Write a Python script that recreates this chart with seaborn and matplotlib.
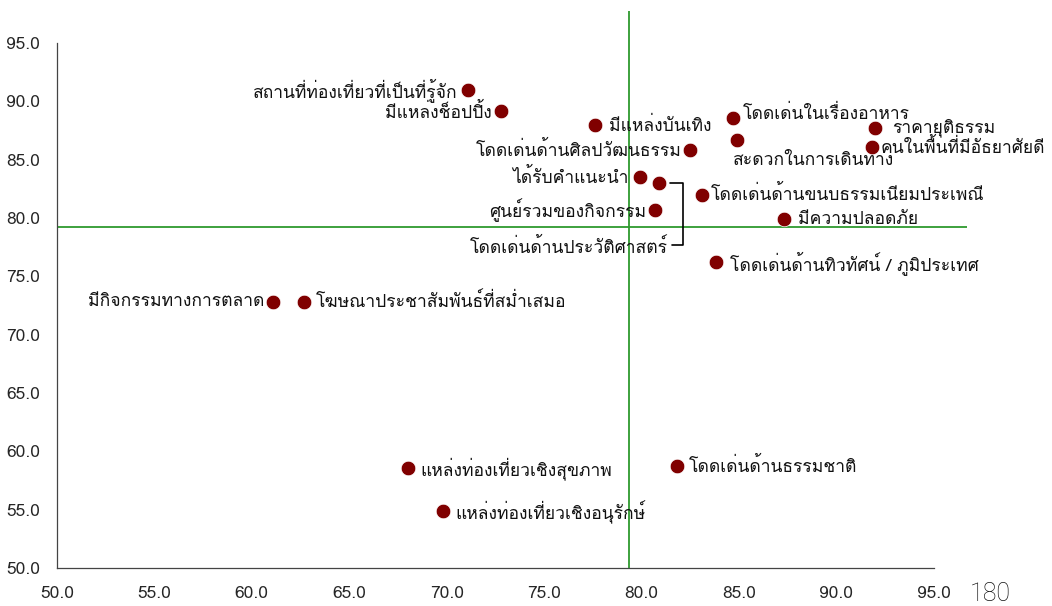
import matplotlib
matplotlib.use('Agg')
import matplotlib.pyplot as plt
import seaborn as sns
import pandas as pd
from matplotlib.transforms import IdentityTransform

# ข้อมูล (อ่านจากภาพ)
labels = [
    'สถานที่ท่องเที่ยวที่เป็นที่รู้จัก', 'มีแหล่งช็อปปิ้ง', 'มีแหล่งบันเทิง',
    'โดดเด่นในเรื่องอาหาร', 'ราคายุติธรรม', 'คนในพื้นที่มีอัธยาศัยดี',
    'สะดวกในการเดินทาง', 'โดดเด่นด้านศิลปวัฒนธรรม', 'ได้รับคำแนะนำ',
    'โดดเด่นด้านประวัติศาสตร์', 'ศูนย์รวมของกิจกรรม', 'โดดเด่นด้านขนบธรรมเนียมประเพณี',
    'มีความปลอดภัย', 'โดดเด่นด้านทิวทัศน์ / ภูมิประเทศ', 'มีกิจกรรมทางการตลาด',
    'โฆษณาประชาสัมพันธ์ที่สม่ำเสมอ', 'แหล่งท่องเที่ยวเชิงสุขภาพ',
    'แหล่งท่องเที่ยวเชิงอนุรักษ์', 'โดดเด่นด้านธรรมชาติ',
]
x_vals = [71.1, 72.8, 77.6, 84.7, 92.0, 91.8, 84.9, 82.5, 79.9, 80.9,
          80.7, 83.1, 87.3, 83.8, 61.1, 62.7, 68.0, 69.8, 81.8]
y_vals = [91.0, 89.2, 88.0, 88.6, 87.7, 86.1, 86.7, 85.8, 83.5, 83.0,
          80.7, 82.0, 79.9, 76.2, 72.8, 72.8, 58.6, 54.9, 58.7]
x_mean = 79.35
y_mean = 79.2
ticks = [50.0, 55.0, 60.0, 65.0, 70.0, 75.0, 80.0, 85.0, 90.0, 95.0]

# ตำแหน่งป้ายชื่อ (pixel offset, alignment)
label_pos = [(-11, 0, 'right'), (-10, -2, 'right'), (14, -1, 'left'),
             (10, 4, 'left'), (17, 0, 'left'), (9, -1, 'left'),
             (-4, -21, 'left'), (-9, 0, 'right'), (-11, 0, 'right'),
             (9, -65, 'right'), (-9, 0, 'right'), (9, 0, 'left'),
             (14, -1, 'left'), (14, -1, 'left'), (-9, 0, 'right'),
             (11, 0, 'left'), (13, -1, 'left'), (13, -1, 'left'), (12, 0, 'left')]

df = pd.DataFrame({'x': x_vals, 'y': y_vals, 'label': labels})

sns.set_style('white')
plt.rcParams['font.family'] = ['Loma', 'DejaVu Sans']

fig = plt.figure(figsize=(10.52, 6.06), dpi=100)
ax = fig.add_axes([57 / 1052, 38 / 606, 910 / 1052, 556.6 / 606])

ax.axhline(y_mean, color='#2e9a2e', lw=1.3, zorder=1)
ax.axvline(x_mean, color='#2e9a2e', lw=1.3, zorder=1)
sns.scatterplot(data=df, x='x', y='y', s=110, color='#800000',
                edgecolor='white', linewidth=0.5, ax=ax, zorder=3)

ax.set_xlim(50, 96.7)
ax.set_ylim(50, 97.7)
ax.set_xticks(ticks)
ax.set_yticks(ticks)
ax.set_xticklabels([f'{t:.1f}' for t in ticks], fontsize=12.5)
ax.set_yticklabels([f'{t:.1f}' for t in ticks], fontsize=12.5)
ax.set_xlabel('')
ax.set_ylabel('')
for side in ['top', 'right']:
    ax.spines[side].set_visible(False)
for side in ['left', 'bottom']:
    ax.spines[side].set_color('#444444')
    ax.spines[side].set_linewidth(0.9)
ax.spines['bottom'].set_bounds(50, 95)
ax.spines['left'].set_bounds(50, 95)
ax.tick_params(direction='out', length=4, width=0.9, color='#444444')
ax.tick_params(axis='x', pad=9)
ax.tick_params(axis='y', pad=8)

for (lx, ly, lab), (dx, dy, ha) in zip(zip(x_vals, y_vals, labels), label_pos):
    ax.annotate(lab, (lx, ly), xytext=(dx, dy), textcoords='offset pixels',
                ha=ha, va='center', fontsize=12.6, color='#111111')

# วงเล็บเชื่อมป้าย "ประวัติศาสตร์"
i = labels.index('โดดเด่นด้านประวัติศาสตร์')
px, py = ax.transData.transform((x_vals[i], y_vals[i]))
bx = [px + 11, px + 24, px + 24, px + 13]
by = [py, py, py - 62, py - 62]
ax.plot(bx, by, color='black', lw=1.2, transform=IdentityTransform(), clip_on=False)

fig.text(0.922, 0.008, '180', fontsize=18, color='#111111',
         family=['Roboto', 'DejaVu Sans'], fontweight='light')

plt.savefig('out.png', dpi=100)
